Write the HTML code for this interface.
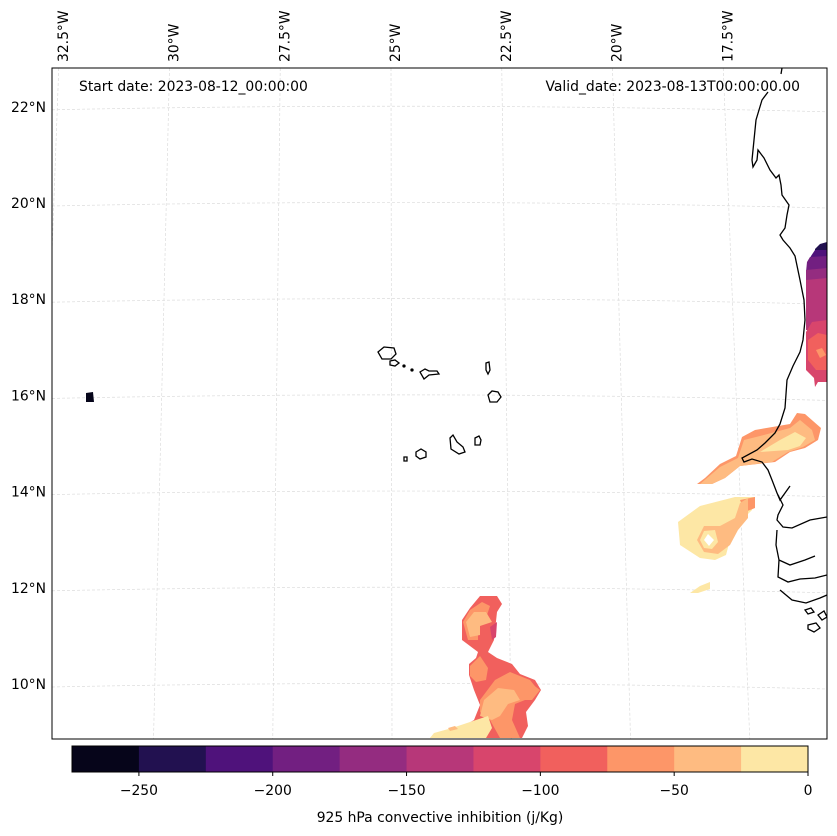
<!DOCTYPE html>
<html><head><meta charset="utf-8"><style>
body{margin:0;background:#fff}
svg{display:block;font-family:"DejaVu Sans","Liberation Sans",sans-serif}
</style></head><body>
<svg id="fig" width="837" height="836" viewBox="0 0 837 836">
<defs><clipPath id="mapclip"><rect x="52" y="68" width="775" height="671"/></clipPath></defs>
<g id="grid" clip-path="url(#mapclip)" stroke="#dcdcdc" stroke-width="0.7" stroke-dasharray="3,2" fill="none"></g>
<g id="fills" clip-path="url(#mapclip)"></g>
<g clip-path="url(#mapclip)" fill="none" stroke="#000" stroke-width="1.3">
<path d="M782,68 L781,74 M768,92 L762,100 L756,120 L754,140 L752,160 L753,167 L757,160 L758,150 L764,158 L770,170 L776,178 L779,175 L781,185 L782,195 L789,205 L787,215 L785,228 L780,235 L783,240 L790,248 L795,256 L800,280 L804,300 L805,320 L803,340 L800,352 L793,366 L787,380 L785,408 L780,424 L775,433 L765,443 L757,450 L742,458 L744,462 L752,459 L762,462 L768,470 L772,480 L777,493 L780,500 L790,486 M777,493 L783,505 L778,515 L777,520 L783,527 L792,528 L810,520 L827,517"/>
<path d="M777,530 L776,545 L779,560 L778,577 L788,582 L800,579 L815,578 L827,575 M779,560 L790,565 L805,560 L815,556 M780,590 L792,600 L806,603 L820,598 L827,595"/>
<path d="M805,610 l6,-2 l3,4 l-6,2z M808,625 l8,-2 l4,5 l-6,4 l-6,-3z M818,615 l6,-4 l3,6 l-5,3z"/>
<path d="M378,352 l6,-5 l10,1 l2,6 l-5,5 l-9,0z"/>
<path d="M390,361 l5,-1 l4,3 l-4,3 l-5,-1z"/>
<path d="M420,372 l5,-3 l4,2 l8,0 l2,3 l-10,1 l-5,4z"/>
<path d="M486,363 l3,-1 l1,8 l-2,4 l-2,-4z"/>
<path d="M488,395 l4,-4 l6,1 l3,5 l-4,5 l-7,0z"/>
<path d="M450,438 l3,-3 l4,7 l6,5 l2,5 l-6,2 l-8,-5z"/>
<path d="M475,438 l4,-2 l2,4 l-1,5 l-5,0z"/>
<path d="M416,452 l5,-3 l5,3 l0,5 l-6,2 l-4,-3z"/>
<path d="M404,457 l3,0 l0,4 l-3,0z"/>
<circle cx="404" cy="366" r="1" fill="#000"/><circle cx="412" cy="370" r="1" fill="#000"/>
</g>
<rect x="52" y="68" width="775" height="671" fill="none" stroke="#000" stroke-width="1"/>
<text x="79" y="91" font-size="13.9">Start date: 2023-08-12_00:00:00</text>
<text x="800" y="91" font-size="13.9" text-anchor="end">Valid_date: 2023-08-13T00:00:00.00</text>
<g id="latlabels" font-size="13.9" text-anchor="end"></g>
<g id="lonlabels" font-size="13.9"></g>
<g id="cbar"></g>
<text x="440" y="822" font-size="13.9" text-anchor="middle">925 hPa convective inhibition (j/Kg)</text>
</svg>
<script>
const levels=[-275,-250,-225,-200,-175,-150,-125,-100,-75,-50,-25,0];
const colors=["#06051a","#221150","#4f127b","#721f81","#942c80","#b73779","#d8456c","#f1605d","#fd9668","#febb81","#fde7a5"];
const tickValues=[-250,-200,-150,-100,-50,0];
const latValues=[22,20,18,16,14,12,10];
const lonValues=[-32.5,-30,-27.5,-25,-22.5,-20,-17.5];
const NS="http://www.w3.org/2000/svg";
function mk(t,a,p){const e=document.createElementNS(NS,t);for(const k in a)e.setAttribute(k,a[k]);p.appendChild(e);return e;}
function latY(lat){return 684-(lat-10)*48.1;}
function lonXtop(lon){return 395+(lon+25)*44.3;}
function lonXbot(lon){return 392+(lon+25)*47.7;}
const grid=document.getElementById('grid');
latValues.forEach(l=>{const y=latY(l);const p=mk('path',{d:`M52,${y+3} Q440,${y-5} 827,${y+5}`},grid);

});
lonValues.forEach(l=>{const p=mk('line',{x1:lonXtop(l)-4,y1:68,x2:lonXbot(l),y2:739},grid);

});
const ll=document.getElementById('latlabels');
latValues.forEach(l=>{const t=mk('text',{x:46,y:latY(l)+5},ll);t.textContent=l+'°N';

});
const lo=document.getElementById('lonlabels');
lonValues.forEach(l=>{const x=lonXtop(l)+5;const t=mk('text',{x:0,y:0,transform:`translate(${x},62) rotate(-90)`},lo);t.textContent=Math.abs(l)+'°W';

});
const fills=document.getElementById('fills');
const shapes=[
[0,"86,393 93,392 94,402 86,402"],
[1,"815,249 820,244 827,242 827,256 815,256"],
[2,"811,256 815,250 827,250 827,262 808,262"],
[3,"807,262 810,257 827,256 827,272 806,272"],
[4,"806,270 827,268 827,330 820,318 815,310 812,318 806,330"],
[5,"806,280 827,278 827,330 806,330"],
[6,"806,332 812,322 827,320 827,382 818,382 815,387 814,378 806,370"],
[7,"808,340 818,333 827,335 827,370 816,370 808,360"],
[8,"816,350 822,348 826,355 820,358"],
[8,"697,484 705,478 720,464 736,456 742,437 755,430 790,424 797,413 805,414 821,428 818,440 805,448 790,452 775,462 740,466 725,478 712,484"],
[9,"700,484 720,467 738,458 744,440 760,436 790,428 800,420 812,430 815,440 803,447 788,452 772,462 740,466 725,478 712,484"],
[10,"760,452 780,440 795,432 806,438 800,446 788,450"],
[10,"678,522 700,506 735,497 755,497 752,510 740,522 730,540 726,555 715,560 700,558 680,545"],
[8,"740,500 755,497 755,508 745,512"],
[9,"740,503 748,498 748,518 738,530 730,545 718,554 704,552 697,540 704,526 720,526 735,518"],
[10,"700,540 704,531 715,530 718,542 712,549 704,548"],
[-1,"704,540 708,534 714,540 709,546"],
[10,"690,593 700,586 710,582 710,589 698,593"],
[7,"480,596 497,596 502,604 497,612 494,640 488,652 497,658 512,664 520,674 535,680 541,690 535,700 526,712 528,726 522,738 430,738 440,732 460,728 474,720 480,705 474,690 469,675 469,664 476,658 478,652 470,646 462,640 462,620 470,608"],
[6,"490,627 497,622 496,637 492,640"],
[8,"470,610 482,602 490,606 486,618 478,628 478,640 468,640 463,622"],
[9,"466,622 474,612 486,612 492,622 480,626 480,635 470,637"],
[8,"470,666 480,656 488,668 486,680 476,682 470,676"],
[8,"495,680 510,672 530,680 538,690 525,700 515,704 512,720 520,738 500,738 490,720 480,712 480,700"],
[9,"484,700 498,688 514,690 520,700 508,704 500,716 492,720 480,716"],
[8,"520,690 532,684 540,690 532,700 522,700"],
[10,"430,738 434,733 452,728 470,722 488,716 492,728 486,738"],
[9,"448,728 455,726 458,729 450,731"]
];
shapes.forEach((s,i)=>{const p=mk('polygon',{points:s[1],fill:s[0]<0?'#ffffff':colors[s[0]]},fills);

});
const cb=document.getElementById('cbar');
const cx0=72,cx1=808;
function cbX(v){return cx0+(v-levels[0])/(levels[levels.length-1]-levels[0])*(cx1-cx0);}
colors.forEach((c,i)=>{const r=mk('rect',{x:cbX(levels[i]),y:746,width:cbX(levels[i+1])-cbX(levels[i])+0.5,height:26,fill:c},cb);

});
mk('rect',{x:cx0,y:746,width:cx1-cx0,height:26,fill:'none',stroke:'#000','stroke-width':1},cb);
tickValues.forEach(v=>{const x=cbX(v);mk('line',{x1:x,y1:772,x2:x,y2:776,stroke:'#000'},cb);
const t=mk('text',{x:x,y:795,'font-size':13.9,'text-anchor':'middle'},cb);t.textContent=(v<0?'\u2212'+(-v):v);

});
</script>
</body></html>
